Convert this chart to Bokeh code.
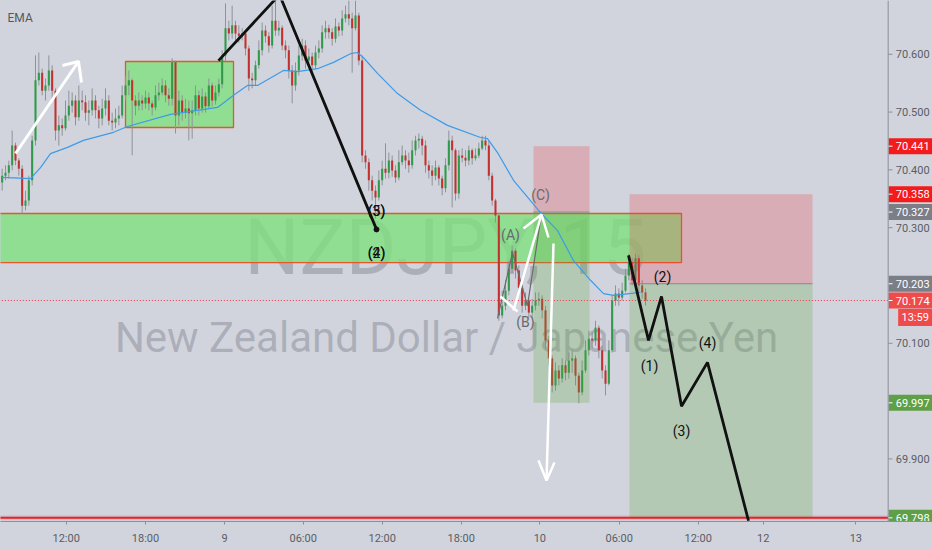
from bokeh.plotting import figure
from bokeh.models import Range1d, FixedTicker, Span
from bokeh.embed import file_html
from bokeh.resources import INLINE
from bokeh.core.properties import value

# ---------------- data ----------------
first_bar = 29
first_open = 70.378
closes = [
    70.390, 70.395, 70.408, 70.442, 70.416, 70.402, 70.338, 70.347, 70.382, 70.451,
    70.555, 70.568, 70.537, 70.546, 70.572, 70.537, 70.468, 70.477, 70.472, 70.494,
    70.511, 70.520, 70.491, 70.520, 70.517, 70.499, 70.503, 70.520, 70.503, 70.489,
    70.506, 70.520, 70.485, 70.482, 70.489, 70.494, 70.529, 70.546, 70.555, 70.520,
    70.511, 70.520, 70.515, 70.525, 70.515, 70.508, 70.529, 70.534, 70.546, 70.529,
    70.523, 70.586, 70.494, 70.520, 70.499, 70.506, 70.498, 70.503, 70.529, 70.506,
    70.527, 70.510, 70.546, 70.520, 70.534, 70.548, 70.598, 70.645, 70.636, 70.650,
    70.636, 70.632, 70.636, 70.610, 70.558, 70.555, 70.581, 70.607, 70.641, 70.631,
    70.615, 70.658, 70.641, 70.646, 70.615, 70.607, 70.572, 70.546, 70.572, 70.598,
    70.615, 70.589, 70.596, 70.581, 70.603, 70.610, 70.638, 70.645, 70.638, 70.627,
    70.648, 70.641, 70.662, 70.669, 70.662, 70.645, 70.667, 70.589, 70.425, 70.413,
    70.382, 70.364, 70.352, 70.382, 70.402, 70.395, 70.416, 70.399, 70.387, 70.413,
    70.425, 70.416, 70.408, 70.434, 70.451, 70.454, 70.442, 70.408, 70.399, 70.390,
    70.404, 70.385, 70.368, 70.408, 70.451, 70.434, 70.359, 70.425, 70.421, 70.416,
    70.434, 70.420, 70.425, 70.437, 70.451, 70.442, 70.390, 70.347, 70.321, 70.148,
    70.165, 70.191, 70.229, 70.260, 70.226, 70.196, 70.165, 70.174, 70.153, 70.165,
    70.174, 70.177, 70.157, 70.105, 70.074, 70.027, 70.053, 70.039, 70.062, 70.049,
    70.070, 70.074, 70.044, 70.015, 70.053, 70.088, 70.108, 70.105, 70.127, 70.088,
    70.053, 70.030, 70.088, 70.174, 70.186, 70.179, 70.191, 70.217, 70.240, 70.209,
    70.247, 70.200, 70.188, 70.174,
]
highs = [
    70.402, 70.408, 70.416, 70.468, 70.447, 70.420, 70.408, 70.364, 70.390, 70.459,
    70.598, 70.603, 70.575, 70.558, 70.598, 70.581, 70.541, 70.494, 70.489, 70.520,
    70.537, 70.534, 70.529, 70.546, 70.537, 70.529, 70.520, 70.541, 70.529, 70.511,
    70.523, 70.541, 70.529, 70.499, 70.506, 70.511, 70.546, 70.563, 70.572, 70.558,
    70.529, 70.534, 70.529, 70.537, 70.534, 70.520, 70.546, 70.551, 70.558, 70.555,
    70.541, 70.593, 70.589, 70.537, 70.529, 70.523, 70.520, 70.520, 70.546, 70.537,
    70.541, 70.534, 70.558, 70.551, 70.546, 70.558, 70.607, 70.688, 70.658, 70.684,
    70.658, 70.650, 70.645, 70.641, 70.615, 70.568, 70.589, 70.624, 70.655, 70.650,
    70.638, 70.684, 70.693, 70.658, 70.650, 70.624, 70.615, 70.581, 70.586, 70.615,
    70.627, 70.624, 70.610, 70.603, 70.615, 70.624, 70.650, 70.658, 70.651, 70.645,
    70.662, 70.655, 70.676, 70.684, 70.693, 70.672, 70.693, 70.672, 70.598, 70.434,
    70.420, 70.390, 70.373, 70.399, 70.416, 70.446, 70.430, 70.425, 70.408, 70.434,
    70.442, 70.434, 70.430, 70.451, 70.459, 70.463, 70.459, 70.451, 70.416, 70.408,
    70.416, 70.408, 70.390, 70.420, 70.468, 70.459, 70.437, 70.434, 70.437, 70.434,
    70.442, 70.437, 70.437, 70.447, 70.459, 70.459, 70.451, 70.395, 70.350, 70.326,
    70.191, 70.209, 70.243, 70.269, 70.264, 70.235, 70.200, 70.188, 70.177, 70.177,
    70.188, 70.188, 70.183, 70.165, 70.113, 70.079, 70.067, 70.062, 70.074, 70.070,
    70.084, 70.088, 70.079, 70.049, 70.070, 70.105, 70.122, 70.119, 70.139, 70.131,
    70.096, 70.062, 70.105, 70.183, 70.200, 70.195, 70.205, 70.229, 70.255, 70.247,
    70.255, 70.252, 70.209, 70.195,
]
lows = [
    70.364, 70.382, 70.385, 70.399, 70.408, 70.390, 70.325, 70.330, 70.338, 70.373,
    70.442, 70.546, 70.529, 70.520, 70.537, 70.520, 70.451, 70.442, 70.459, 70.468,
    70.485, 70.499, 70.477, 70.485, 70.503, 70.485, 70.477, 70.494, 70.489, 70.472,
    70.477, 70.494, 70.477, 70.468, 70.472, 70.477, 70.489, 70.520, 70.529, 70.425,
    70.494, 70.503, 70.503, 70.506, 70.503, 70.494, 70.503, 70.520, 70.529, 70.517,
    70.511, 70.511, 70.463, 70.477, 70.485, 70.489, 70.451, 70.454, 70.494, 70.494,
    70.499, 70.499, 70.506, 70.510, 70.513, 70.527, 70.541, 70.589, 70.624, 70.627,
    70.624, 70.620, 70.624, 70.598, 70.537, 70.541, 70.546, 70.575, 70.598, 70.620,
    70.603, 70.610, 70.632, 70.632, 70.607, 70.593, 70.558, 70.515, 70.537, 70.563,
    70.589, 70.575, 70.581, 70.568, 70.575, 70.593, 70.603, 70.627, 70.627, 70.615,
    70.620, 70.631, 70.632, 70.655, 70.650, 70.568, 70.641, 70.581, 70.413, 70.402,
    70.364, 70.347, 70.316, 70.347, 70.373, 70.385, 70.385, 70.388, 70.378, 70.382,
    70.408, 70.402, 70.395, 70.402, 70.425, 70.437, 70.425, 70.395, 70.385, 70.373,
    70.382, 70.373, 70.356, 70.361, 70.399, 70.335, 70.347, 70.350, 70.413, 70.406,
    70.408, 70.409, 70.416, 70.420, 70.434, 70.434, 70.382, 70.338, 70.309, 70.139,
    70.143, 70.157, 70.183, 70.222, 70.212, 70.188, 70.153, 70.157, 70.143, 70.143,
    70.157, 70.165, 70.143, 70.091, 70.062, 70.015, 70.018, 70.027, 70.032, 70.036,
    70.039, 70.049, 70.027, 69.996, 70.010, 70.049, 70.079, 70.091, 70.096, 70.074,
    70.039, 70.010, 70.027, 70.084, 70.165, 70.165, 70.174, 70.188, 70.209, 70.200,
    70.200, 70.188, 70.177, 70.165,
]

ema_bars = [29.1, 37.5, 40.5, 43.5, 48.6, 53.4, 62.4, 66.6, 79.5, 93.6, 98.4, 102.6,
            105.6, 113.4, 117.6, 123.6, 128.4, 133.5, 135.6, 137.4, 141.6, 147.6,
            154.5, 162.6, 172.5, 174.6, 177.6, 182.4, 190.5, 195.6, 200.4, 205.5,
            209.4, 212.4, 220.5]
ema_vals = [70.387, 70.385, 70.404, 70.428, 70.439, 70.451, 70.465, 70.475, 70.496,
            70.508, 70.529, 70.546, 70.546, 70.572, 70.570, 70.575, 70.586, 70.601,
            70.603, 70.594, 70.567, 70.532, 70.503, 70.477, 70.456, 70.454, 70.430,
            70.382, 70.326, 70.295, 70.243, 70.209, 70.186, 70.183, 70.188]

time_ticks = [48.2, 72.0, 95.7, 119.3, 143.0, 166.7, 190.3, 214.1, 237.8, 257.3, 285.1]
time_labels = ["12:00", "18:00", "9", "06:00", "12:00", "18:00", "10", "06:00", "12:00", "12", "13"]
price_ticks = [70.6, 70.5, 70.4, 70.3, 70.1, 69.9]

# drawings
zone = dict(left=20.0, right=232.8, top=70.3245, bottom=70.2397)
box1 = dict(left=66.0, right=98.4, top=70.5875, bottom=70.4733)
pos1 = dict(left=188.4, right=205.2, stop=70.441, entry=70.327, target=69.997)
pos2 = dict(left=217.2, right=272.1, stop=70.358, entry=70.203, target=69.798)
last_price = 70.174
support_level = 69.798

impulse_bars = [93.9, 112.2, 141.3]
impulse_vals = [70.589, 70.703, 70.297]
proj_bars = [216.9, 222.9, 226.8, 232.8, 240.6, 252.9]
proj_vals = [70.252, 70.105, 70.181, 69.991, 70.067, 69.793]
proj_lbl_bars = [223.2, 227.1, 232.8, 240.6]
proj_lbl_vals = [70.0615, 70.2155, 69.949, 70.1013]
proj_lbl_text = ["(1)", "(2)", "(3)", "(4)"]

abc_bars = [177.6, 182.1, 186.6, 190.8]
abc_vals = [70.143, 70.257, 70.165, 70.3245]

badge_vals = [70.441, 70.358, 70.327, 70.203, 70.174, 69.997, 69.798]
badge_cols = ["#f31c1c", "#f31c1c", "#7b7e87", "#7b7e87", "#ef4b4b", "#5e9f47", "#5e9f47"]

# ---------------- figure ----------------
BG = "#d1d4dc"
FONT = "Roboto"
X0, X1 = 28.5, 308.1
Y0, Y1 = 69.7917, 70.6930
FRAME_H = 521
AXIS_X = 294.8

p = figure(frame_width=932, frame_height=FRAME_H, x_range=Range1d(X0, X1),
           y_range=Range1d(Y0, Y1), output_backend="svg", toolbar_location=None,
           y_axis_location=None, min_border=0)
p.background_fill_color = BG
p.border_fill_color = BG
p.outline_line_color = None
p.grid.visible = False

try:
    from bokeh.models import GlobalInlineStyleSheet
    p.stylesheets = [GlobalInlineStyleSheet(css="body{background:%s;}" % BG)]
except Exception:
    pass

ax = p.xaxis[0]
ax.ticker = FixedTicker(ticks=time_ticks)
ax.major_label_overrides = {t: l for t, l in zip(time_ticks, time_labels)}
ax.axis_line_color = "#8c8f98"
ax.major_tick_line_color = "#8c8f98"
ax.major_tick_out = 3
ax.major_tick_in = 0
ax.minor_tick_line_color = None
ax.major_label_text_font = FONT
ax.major_label_text_font_size = "11px"
ax.major_label_text_color = "#5a5d66"
ax.major_label_standoff = 7

# watermark
wm = "#787b86"
p.text(x=[162.0], y=[70.2657], text=["NZDJPY, 15"], text_font=value(FONT),
       text_font_size="77px", text_color=wm, text_alpha=0.42,
       text_align="center", text_baseline="alphabetic")
p.text(x=[162.3], y=[70.110], text=["New Zealand Dollar / Japanese Yen"],
       text_font=value(FONT), text_font_size="42px", text_color=wm,
       text_alpha=0.42, text_align="center", text_baseline="alphabetic")

# rectangles
for b in (zone, box1):
    p.quad(left=b["left"], right=b["right"], top=b["top"], bottom=b["bottom"],
           fill_color="#7ee07e", fill_alpha=0.8, line_color="#e4572e", line_width=1.3)

# candles
bars = list(range(first_bar, first_bar + len(closes)))
opens = [first_open] + closes[:-1]
up = [c >= o for o, c in zip(opens, closes)]
p.segment(x0=bars, x1=bars, y0=lows, y1=highs, line_color="#8f9298", line_width=1)
p.vbar(x=bars, width=0.62, top=[max(o, c) for o, c in zip(opens, closes)],
       bottom=[min(o, c) for o, c in zip(opens, closes)],
       fill_color=["#2f9a4a" if u else "#c2312e" for u in up], line_color=None)

# position tools
for t in (pos1, pos2):
    p.quad(left=t["left"], right=t["right"], top=t["stop"], bottom=t["entry"],
           fill_color="#f23645", fill_alpha=0.25, line_color=None)
    p.quad(left=t["left"], right=t["right"], top=t["entry"], bottom=t["target"],
           fill_color="#5aa83c", fill_alpha=0.25, line_color=None)
    p.segment(x0=t["left"], x1=t["right"], y0=t["entry"], y1=t["entry"],
              line_color="#8a8a8a", line_width=1)

# EMA
p.line(ema_bars, ema_vals, line_color="#3d9be9", line_width=1.2)

# horizontal levels
p.segment(x0=X0 - 5, x1=AXIS_X, y0=support_level, y1=support_level,
          line_color="#f23645", line_width=5, line_alpha=0.15)
p.segment(x0=X0 - 5, x1=AXIS_X, y0=support_level, y1=support_level,
          line_color="#e8202a", line_width=2)
p.segment(x0=X0 - 5, x1=AXIS_X, y0=last_price, y1=last_price,
          line_color="#f23645", line_width=1, line_dash="1 2")

# wave drawings
p.line(abc_bars, abc_vals, line_color="#6b6b6b", line_width=1.2)
p.line(impulse_bars, impulse_vals, line_color="#111111", line_width=2.8)
p.scatter([impulse_bars[-1]], [impulse_vals[-1]], size=5, color="#111111")
p.line(proj_bars, proj_vals, line_color="#111111", line_width=2.8)

# white arrows
W = "white"
p.line([33.0, 51.9], [70.4283, 70.5875], line_color=W, line_width=3)
p.line([47.1, 51.9, 52.8], [70.5806, 70.5875, 70.5512], line_color=W, line_width=3)
p.line([182.4, 190.8], [70.1567, 70.3228], line_color=W, line_width=2.5)
p.line([185.4, 190.8, 192.9], [70.2986, 70.3228, 70.283], line_color=W, line_width=2.5)
p.line([178.5, 183.6], [70.1809, 70.155], line_color=W, line_width=2.5)
p.line([194.4, 192.3], [70.2726, 69.8626], line_color=W, line_width=2.5)
p.line([189.9, 192.3, 194.7], [69.8972, 69.8626, 69.8937], line_color=W, line_width=2.5)

# labels
lbl = dict(text_font=value(FONT), text_align="center", text_baseline="middle")
p.text(x=[141.3, 141.3], y=[70.3297, 70.3297], text=["(3)", "(5)"],
       text_font_size="14px", text_color="#111111", **lbl)
p.text(x=[141.3, 141.3], y=[70.257, 70.257], text=["(2)", "(4)"],
       text_font_size="14px", text_color="#111111", **lbl)
p.text(x=proj_lbl_bars, y=proj_lbl_vals, text=proj_lbl_text,
       text_font_size="14px", text_color="#111111", **lbl)
p.text(x=[181.5, 186.0, 190.5], y=[70.2865, 70.136, 70.356], text=["(A)", "(B)", "(C)"],
       text_font_size="14px", text_color="#666a70", **lbl)
p.text(x=[30.6], y=[70.6619], text=["EMA"], text_font=value(FONT),
       text_font_size="12px", text_color="#55585f", text_align="left",
       text_baseline="middle")

# price scale (drawn inside the frame, right of the axis line)
p.add_layout(Span(location=AXIS_X, dimension="height", line_color="#8c8f98", line_width=1))
p.segment(x0=AXIS_X, x1=AXIS_X + 1.3, y0=price_ticks, y1=price_ticks,
          line_color="#8c8f98", line_width=1)
p.text(x=[AXIS_X + 2.3] * len(price_ticks), y=price_ticks,
       text=["%.3f" % v for v in price_ticks], text_font=value(FONT),
       text_font_size="11px", text_color="#5a5d66", text_align="left",
       text_baseline="middle")
p.rect(x=[AXIS_X + 6.9] * len(badge_vals), y=badge_vals, width=45, height=16,
       width_units="screen", height_units="screen", fill_color=badge_cols,
       line_color=None)
p.segment(x0=AXIS_X, x1=AXIS_X + 1.3, y0=badge_vals, y1=badge_vals,
          line_color="white", line_width=1)
p.text(x=[AXIS_X + 2.3] * len(badge_vals), y=badge_vals,
       text=["%.3f" % v for v in badge_vals], text_font=value(FONT),
       text_font_size="11px", text_color="white", text_align="left",
       text_baseline="middle")
px_per_unit = FRAME_H / (Y1 - Y0)
cd_y = last_price - 17 / px_per_unit
p.rect(x=[AXIS_X + 8.1], y=[cd_y], width=34, height=17, width_units="screen",
       height_units="screen", fill_color="#ef4b4b", line_color=None)
p.text(x=[AXIS_X + 8.1], y=[cd_y], text=["13:59"], text_font=value(FONT),
       text_font_size="11px", text_color="white", text_align="center",
       text_baseline="middle")

open("out.html", "w").write(file_html(p, INLINE))
